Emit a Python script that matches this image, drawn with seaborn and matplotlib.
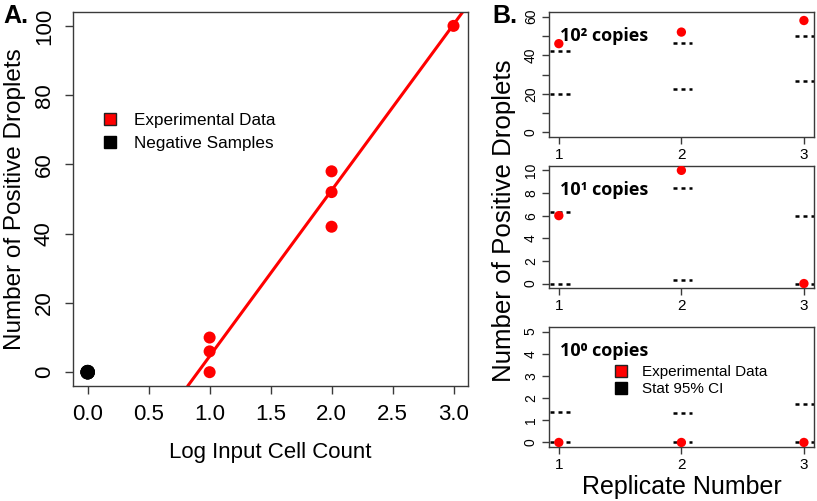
import numpy as np
import pandas as pd
import matplotlib
matplotlib.use("Agg")
import matplotlib.pyplot as plt
from matplotlib.lines import Line2D
import seaborn as sns

# panel A data
log_count = [1, 1, 1, 2, 2, 2, 3]
droplets = [0, 6, 10, 42, 52, 58, 100]
neg_x = [0, 0, 0]
neg_y = [0, 0, 0]
fit_slope = 47.9
fit_intercept = -43.3

# panel B data
replicate = [1, 2, 3]
copies = ["10²", "10¹", "10⁰"]
exp_data = [[46, 52, 58], [6, 10, 0], [0, 0, 0]]
ci_low = [[20, 22.3, 26.6], [0, 0.3, 0], [0, 0, 0]]
ci_high = [[42, 46.6, 50.2], [6.3, 8.4, 6.0], [1.38, 1.32, 1.74]]
ylims = [(-2.4, 62.4), (-0.4, 10.4), (-0.2, 5.2)]
yticks = [np.arange(0, 61, 10), np.arange(0, 11, 2), np.arange(0, 6, 1)]

sns.set_theme(style="ticks")
plt.rcParams["font.family"] = ["Liberation Sans", "DejaVu Sans"]
plt.rcParams["text.color"] = "black"
plt.rcParams["axes.labelcolor"] = "black"
plt.rcParams["axes.edgecolor"] = "#3a3a3a"
plt.rcParams["axes.linewidth"] = 1.0
plt.rcParams["xtick.color"] = "#3a3a3a"
plt.rcParams["ytick.color"] = "#3a3a3a"
plt.rcParams["xtick.labelcolor"] = "black"
plt.rcParams["ytick.labelcolor"] = "black"

fig = plt.figure(figsize=(8.17, 5.01), dpi=100)

# ---- panel A ----
axA = fig.add_axes([0.0894, 0.2295, 0.4836, 0.7465])
dfA = pd.DataFrame({"x": log_count, "y": droplets})
sns.scatterplot(data=dfA, x="x", y="y", color="red", s=75, edgecolor="none", ax=axA, zorder=3)
sns.scatterplot(x=neg_x, y=neg_y, color="black", s=110, edgecolor="none", ax=axA, zorder=3)
axA.axline((0, fit_intercept), slope=fit_slope, color="red", lw=2.2, zorder=2)
axA.set_xlim(-0.12, 3.12)
axA.set_ylim(-4, 104)
axA.set_xticks(np.arange(0, 3.01, 0.5))
axA.set_xticklabels([f"{v:.1f}" for v in np.arange(0, 3.01, 0.5)])
axA.set_yticks(np.arange(0, 101, 20))
axA.tick_params(axis="both", direction="out", length=6, width=1, labelsize=16, pad=7)
for lab in axA.get_yticklabels():
    lab.set_rotation(90)
    lab.set_va("center")
axA.set_xlabel("Log Input Cell Count", fontsize=16, labelpad=12)
axA.set_ylabel("Number of Positive Droplets", fontsize=17.5, labelpad=6)
for s in axA.spines.values():
    s.set_visible(True)

hA = [Line2D([], [], marker="s", ls="none", markerfacecolor="red", markeredgecolor="#222222", markersize=9),
      Line2D([], [], marker="s", ls="none", markerfacecolor="black", markeredgecolor="black", markersize=9)]
axA.legend(hA, ["Experimental Data", "Negative Samples"], loc="upper left",
           bbox_to_anchor=(0.033, 0.772), frameon=False, fontsize=12.3,
           handletextpad=0.9, labelspacing=0.5, handlelength=1.0)

fig.text(0.004, 0.955, "A.", fontsize=18, fontweight="bold", va="baseline")
fig.text(0.603, 0.955, "B.", fontsize=18, fontweight="bold", va="baseline")

# ---- panel B ----
rects = [[0.672, 0.7265, 0.324, 0.2495],
         [0.672, 0.425, 0.324, 0.244],
         [0.672, 0.108, 0.324, 0.239]]
for i, r in enumerate(rects):
    ax = fig.add_axes(r)
    dfB = pd.DataFrame({"rep": replicate, "val": exp_data[i]})
    left = [x - 0.07 for x in replicate]
    right = [x + 0.09 for x in replicate]
    ax.hlines(ci_high[i], left, right, colors="black", linestyles=(0, (1.6, 1.6)), lw=1.8, zorder=2)
    ax.hlines(ci_low[i], left, right, colors="black", linestyles=(0, (1.6, 1.6)), lw=1.8, zorder=2)
    sns.scatterplot(data=dfB, x="rep", y="val", color="red", s=45, edgecolor="none", ax=ax, zorder=3)
    ax.set_xlim(0.92, 3.08)
    ax.set_ylim(*ylims[i])
    ax.set_xticks(replicate)
    ax.set_yticks(yticks[i])
    if i == 0:
        ax.set_yticklabels([str(v) if v % 20 == 0 else "" for v in yticks[i]])
    ax.tick_params(axis="both", direction="out", length=5, width=1, labelsize=11, pad=3)
    ax.tick_params(axis="y", labelsize=10)
    for lab in ax.get_yticklabels():
        lab.set_rotation(90)
        lab.set_va("center")
    ax.set_xlabel("")
    ax.set_ylabel("")
    for s in ax.spines.values():
        s.set_visible(True)
    ax.text(0.04, 0.88, f"{copies[i]} copies", transform=ax.transAxes, fontsize=13,
            fontweight="bold", family=["Open Sans", "DejaVu Sans"], va="top")
    if i == 2:
        ax.set_xlabel("Replicate Number", fontsize=18, labelpad=2)
        hB = [Line2D([], [], marker="s", ls="none", markerfacecolor="red", markeredgecolor="#222222", markersize=8),
              Line2D([], [], marker="s", ls="none", markerfacecolor="black", markeredgecolor="black", markersize=8)]
        ax.legend(hB, ["Experimental Data", "Stat 95% CI"], loc="upper left",
                  bbox_to_anchor=(0.19, 0.8), frameon=False, fontsize=11,
                  handletextpad=0.9, labelspacing=0.2, handlelength=1.0)

fig.text(0.617, 0.56, "Number of Positive Droplets", rotation=90, fontsize=18.6,
         ha="center", va="center")

fig.savefig("out.png", dpi=100)
